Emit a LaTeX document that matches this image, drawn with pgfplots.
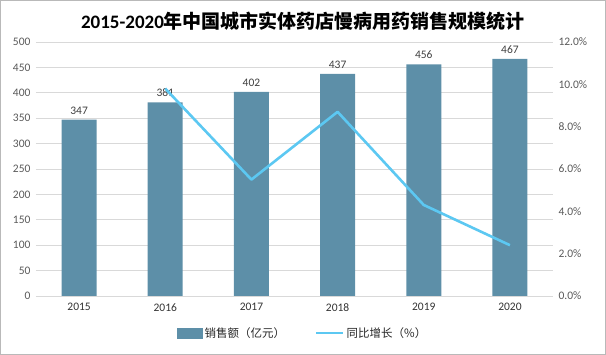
\documentclass[border=0pt]{standalone}
\usepackage{pgfplots}
\pgfplotsset{compat=1.18}
\usepackage{fontspec}
\setmainfont{Carlito}
\newfontfamily\cjk{Noto Sans CJK SC}
\definecolor{barc}{HTML}{5D8FA8}
\definecolor{linec}{HTML}{5CC8F2}
\definecolor{tickc}{HTML}{595959}
\definecolor{gridc}{HTML}{D9D9D9}
\begin{document}
\begin{tikzpicture}[x=1pt,y=1pt]
\useasboundingbox (0,0) rectangle (606,355);
\draw[gray!55, line width=1pt] (0.5,0.5) rectangle (605.5,354.5);
\node at (303,334) {\fontsize{19}{22}\selectfont\bfseries 2015-2020{\cjk\bfseries 年中国城市实体药店慢病用药销售规模统计}};
\begin{axis}[at={(36pt,59pt)}, anchor=south west, scale only axis, width=517pt, height=254pt,
  xmin=-0.5, xmax=5.5, ymin=0, ymax=500, ytick={0,50,...,500},
  xtick={0,1,2,3,4,5}, xticklabels={2015,2016,2017,2018,2019,2020},
  axis x line*=bottom, axis y line*=left,
  x axis line style={draw=gridc, line width=0.8pt, -}, y axis line style={draw=none},
  major tick length=0pt,
  ymajorgrids, grid style={draw=gridc, line width=0.8pt},
  /pgf/number format/assume math mode=true,
  ticklabel style={font=\fontsize{11.5}{13}\selectfont, text=tickc},
  xticklabel style={text=black!80, yshift=-4pt},
  yticklabel style={xshift=-2pt},
]
\addplot[ybar, bar width=35pt, fill=barc, draw=none,
  nodes near coords, every node near coord/.append style={font=\fontsize{11.5}{13}\selectfont, text=black!75, anchor=south, yshift=2pt}]
  coordinates {(0,347) (1,381) (2,402) (3,437) (4,456) (5,467)};
\end{axis}
\begin{axis}[at={(36pt,59pt)}, anchor=south west, scale only axis, width=517pt, height=254pt,
  xmin=-0.5, xmax=5.5, ymin=0, ymax=12, ytick={0,2,...,12},
  axis y line*=right, axis x line=none, y axis line style={draw=none},
  major tick length=0pt,
  /pgf/number format/assume math mode=true,
  yticklabel={\pgfmathprintnumber[fixed,fixed zerofill,precision=1]{\tick}\%},
  ticklabel style={font=\fontsize{11.5}{13}\selectfont, text=tickc},
  yticklabel style={xshift=2pt},
  legend style={at={(0.516,-0.146)}, anchor=center, draw=none, fill=none, legend columns=2,
    font=\cjk\fontsize{11.5}{13}\selectfont, text=black!85,
    /tikz/every even column/.append style={column sep=28pt}},
]
\addlegendimage{legend image code/.code={\fill[barc] (0pt,-5pt) rectangle (25pt,5pt);}}
\addlegendentry{销售额（亿元）}
\addplot[linec, line width=2.6pt, line join=round,
  legend image code/.code={\draw[linec, line width=2.6pt] (0pt,0pt) -- (27pt,0pt);}]
  coordinates {(1,9.8) (2,5.5) (3,8.7) (4,4.3) (5,2.4)};
\addlegendentry{同比增长（\%）}
\end{axis}
\end{tikzpicture}
\end{document}
